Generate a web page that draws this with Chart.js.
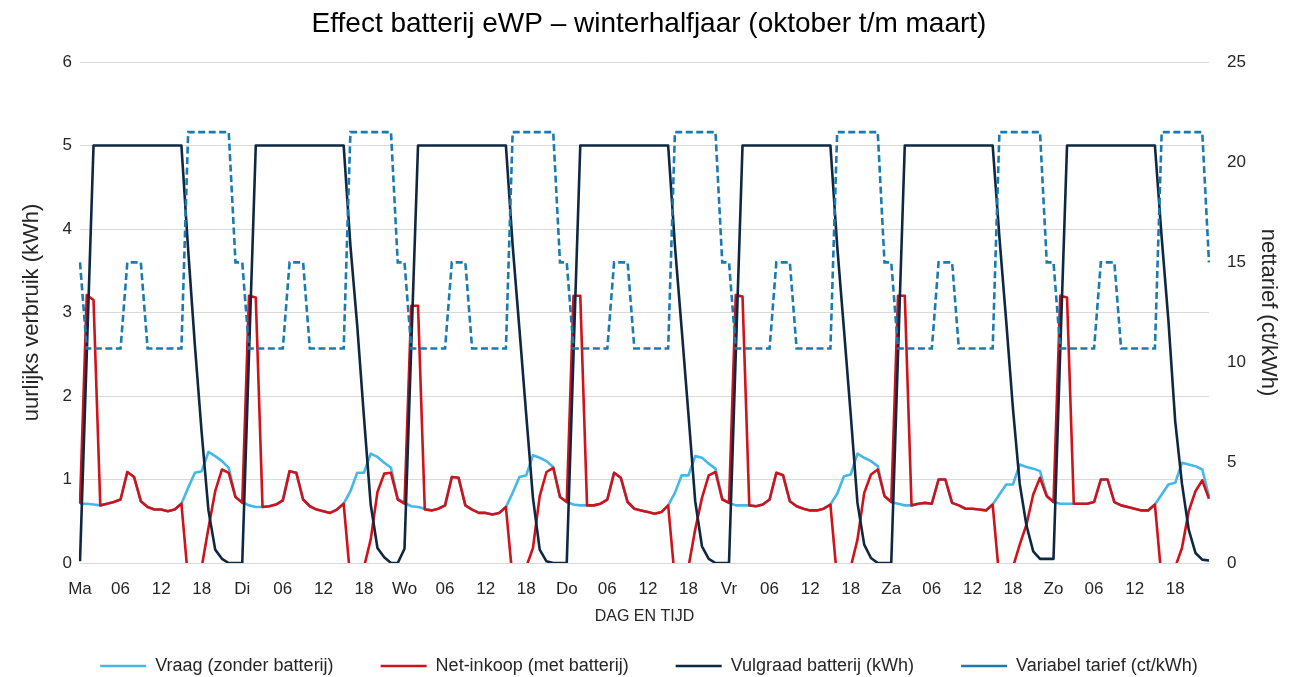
<!DOCTYPE html>
<html>
<head>
<meta charset="utf-8">
<script src="https://cdn.jsdelivr.net/npm/chart.js@4"></script>
<style>
  html, body { margin: 0; padding: 0; background: #fff; }
  #chart { display: block; }
</style>
</head>
<body>
<canvas id="chart" width="1298" height="677"></canvas>
<script>
const dayNames = ['Ma', 'Di', 'Wo', 'Do', 'Vr', 'Za', 'Zo'];
const hourTicks = { 6: '06', 12: '12', 18: '18' };

// uurwaarden, één regel per dag (ma t/m zo), kWh
const vraag = [
    0.71, 0.71, 0.70, 0.69, 0.71, 0.73, 0.76, 1.09, 1.03, 0.74, 0.67, 0.64, 0.64, 0.62, 0.64, 0.71, 0.90, 1.08, 1.10, 1.33, 1.28, 1.22, 1.14, 0.79,
    0.73, 0.69, 0.67, 0.67, 0.68, 0.70, 0.75, 1.10, 1.08, 0.76, 0.68, 0.64, 0.62, 0.60, 0.64, 0.71, 0.86, 1.08, 1.08, 1.31, 1.27, 1.20, 1.14, 0.77,
    0.72, 0.68, 0.67, 0.65, 0.63, 0.65, 0.69, 1.03, 1.02, 0.69, 0.64, 0.60, 0.60, 0.58, 0.60, 0.67, 0.84, 1.03, 1.05, 1.29, 1.26, 1.22, 1.15, 0.79,
    0.73, 0.70, 0.69, 0.69, 0.69, 0.71, 0.76, 1.08, 1.02, 0.73, 0.65, 0.63, 0.61, 0.59, 0.61, 0.69, 0.84, 1.05, 1.05, 1.28, 1.26, 1.19, 1.13, 0.77,
    0.72, 0.69, 0.69, 0.69, 0.68, 0.70, 0.76, 1.08, 1.05, 0.74, 0.68, 0.65, 0.63, 0.63, 0.65, 0.70, 0.83, 1.04, 1.06, 1.31, 1.26, 1.22, 1.16, 0.81,
    0.73, 0.71, 0.69, 0.69, 0.71, 0.72, 0.71, 1.00, 1.00, 0.72, 0.69, 0.65, 0.65, 0.64, 0.63, 0.70, 0.82, 0.94, 0.94, 1.18, 1.15, 1.13, 1.10, 0.81,
    0.73, 0.71, 0.71, 0.71, 0.71, 0.71, 0.73, 1.00, 1.00, 0.73, 0.69, 0.67, 0.65, 0.63, 0.63, 0.70, 0.82, 0.94, 0.96, 1.20, 1.18, 1.16, 1.12, 0.80
];

const netInkoop = [
    0.71, 3.21, 3.15, 0.69, 0.71, 0.73, 0.76, 1.09, 1.03, 0.74, 0.67, 0.64, 0.64, 0.62, 0.64, 0.71, -0.20, -0.30, -0.05, 0.42, 0.86, 1.12, 1.08, 0.79,
    0.72, 3.20, 3.18, 0.67, 0.68, 0.70, 0.75, 1.10, 1.08, 0.76, 0.68, 0.64, 0.62, 0.60, 0.64, 0.71, -0.20, -0.30, -0.05, 0.28, 0.85, 1.07, 1.08, 0.76,
    0.71, 3.08, 3.08, 0.64, 0.63, 0.65, 0.69, 1.03, 1.02, 0.69, 0.64, 0.60, 0.60, 0.58, 0.60, 0.67, -0.20, -0.30, -0.05, 0.18, 0.80, 1.09, 1.14, 0.79,
    0.73, 3.20, 3.20, 0.69, 0.69, 0.71, 0.76, 1.08, 1.02, 0.73, 0.65, 0.63, 0.61, 0.59, 0.61, 0.69, -0.20, -0.30, -0.05, 0.40, 0.78, 1.05, 1.09, 0.76,
    0.72, 3.21, 3.19, 0.69, 0.68, 0.70, 0.76, 1.08, 1.05, 0.74, 0.68, 0.65, 0.63, 0.63, 0.65, 0.70, -0.20, -0.30, -0.05, 0.28, 0.84, 1.06, 1.12, 0.80,
    0.73, 3.20, 3.20, 0.69, 0.71, 0.72, 0.71, 1.00, 1.00, 0.72, 0.69, 0.65, 0.65, 0.64, 0.63, 0.70, -0.20, -0.30, -0.05, 0.22, 0.46, 0.82, 1.02, 0.80,
    0.73, 3.20, 3.18, 0.71, 0.71, 0.71, 0.73, 1.00, 1.00, 0.73, 0.69, 0.67, 0.65, 0.63, 0.63, 0.70, -0.20, -0.30, -0.05, 0.18, 0.62, 0.86, 0.99, 0.77
];

const vulgraad = [
    0.02, 2.50, 5, 5, 5, 5, 5, 5, 5, 5, 5, 5, 5, 5, 5, 5, 3.75, 2.60, 1.56, 0.63, 0.16, 0.05, 0, 0,
    0, 2.50, 5, 5, 5, 5, 5, 5, 5, 5, 5, 5, 5, 5, 5, 5, 3.80, 2.85, 1.75, 0.70, 0.18, 0.07, 0, 0,
    0.17, 2.60, 5, 5, 5, 5, 5, 5, 5, 5, 5, 5, 5, 5, 5, 5, 3.80, 2.80, 1.78, 0.78, 0.16, 0.02, 0, 0,
    0, 2.50, 5, 5, 5, 5, 5, 5, 5, 5, 5, 5, 5, 5, 5, 5, 3.80, 2.80, 1.78, 0.74, 0.20, 0.05, 0, 0,
    0, 2.50, 5, 5, 5, 5, 5, 5, 5, 5, 5, 5, 5, 5, 5, 5, 3.80, 2.80, 1.78, 0.72, 0.22, 0.06, 0, 0,
    0, 2.50, 5, 5, 5, 5, 5, 5, 5, 5, 5, 5, 5, 5, 5, 5, 3.90, 2.90, 1.85, 0.95, 0.45, 0.14, 0.05, 0.05,
    0.05, 2.55, 5, 5, 5, 5, 5, 5, 5, 5, 5, 5, 5, 5, 5, 5, 3.90, 2.90, 1.70, 0.95, 0.40, 0.12, 0.04, 0.03
];

// ct/kWh
const tarief = [
    15, 10.7, 10.7, 10.7, 10.7, 10.7, 10.7, 15, 15, 15, 10.7, 10.7, 10.7, 10.7, 10.7, 10.7, 21.5, 21.5, 21.5, 21.5, 21.5, 21.5, 21.5, 15,
    15, 10.7, 10.7, 10.7, 10.7, 10.7, 10.7, 15, 15, 15, 10.7, 10.7, 10.7, 10.7, 10.7, 10.7, 21.5, 21.5, 21.5, 21.5, 21.5, 21.5, 21.5, 15,
    15, 10.7, 10.7, 10.7, 10.7, 10.7, 10.7, 15, 15, 15, 10.7, 10.7, 10.7, 10.7, 10.7, 10.7, 21.5, 21.5, 21.5, 21.5, 21.5, 21.5, 21.5, 15,
    15, 10.7, 10.7, 10.7, 10.7, 10.7, 10.7, 15, 15, 15, 10.7, 10.7, 10.7, 10.7, 10.7, 10.7, 21.5, 21.5, 21.5, 21.5, 21.5, 21.5, 21.5, 15,
    15, 10.7, 10.7, 10.7, 10.7, 10.7, 10.7, 15, 15, 15, 10.7, 10.7, 10.7, 10.7, 10.7, 10.7, 21.5, 21.5, 21.5, 21.5, 21.5, 21.5, 21.5, 15,
    15, 10.7, 10.7, 10.7, 10.7, 10.7, 10.7, 15, 15, 15, 10.7, 10.7, 10.7, 10.7, 10.7, 10.7, 21.5, 21.5, 21.5, 21.5, 21.5, 21.5, 21.5, 15,
    15, 10.7, 10.7, 10.7, 10.7, 10.7, 10.7, 15, 15, 15, 10.7, 10.7, 10.7, 10.7, 10.7, 10.7, 21.5, 21.5, 21.5, 21.5, 21.5, 21.5, 21.5, 15
];

const labels = [];
dayNames.forEach(day => {
    for (let h = 0; h < 24; h++) {
        labels.push(h === 0 ? day : (hourTicks[h] || ''));
    }
});

Chart.defaults.font.family = '"Liberation Sans", Arial, sans-serif';
Chart.defaults.color = '#262626';

const tickFont = { size: 17 };

const lineStyle = (color) => ({
    borderColor: color,
    backgroundColor: color,
    borderWidth: 2.6,
    pointRadius: 0,
    tension: 0,
    fill: false,
    borderJoinStyle: 'round'
});

new Chart(document.getElementById('chart'), {
    type: 'line',
    data: {
        labels: labels,
        datasets: [
            { label: 'Vraag (zonder batterij)', data: vraag, yAxisID: 'y', order: 4, ...lineStyle('#45B7E9') },
            { label: 'Net-inkoop (met batterij)', data: netInkoop, yAxisID: 'y', order: 3, ...lineStyle('#D0121B') },
            { label: 'Vulgraad batterij (kWh)', data: vulgraad, yAxisID: 'y', order: 2, ...lineStyle('#0E2841') },
            { label: 'Variabel tarief (ct/kWh)', data: tarief, yAxisID: 'y2', order: 1, ...lineStyle('#1A7BB0'), borderDash: [7, 3.5], borderJoinStyle: 'miter' }
        ]
    },
    options: {
        responsive: false,
        animation: false,
        layout: { padding: { left: 0, right: 0, top: 0, bottom: -8 } },
        plugins: {
            tooltip: { enabled: false },
            title: {
                display: true,
                text: 'Effect batterij eWP \u2013 winterhalfjaar (oktober t/m maart)',
                color: '#000',
                font: { size: 28, weight: 'normal' },
                padding: { top: 7.2, bottom: 21.2 }
            },
            legend: {
                position: 'bottom',
                labels: {
                    usePointStyle: true,
                    pointStyle: 'line',
                    pointStyleWidth: 46,
                    padding: 47,
                    font: { size: 18 },
                    color: '#262626',
                    sort: (a, b) => a.datasetIndex - b.datasetIndex
                }
            }
        },
        scales: {
            x: {
                offset: false,
                grid: { display: false },
                border: { display: false },
                ticks: { autoSkip: false, maxRotation: 0, minRotation: 0, padding: 8, font: tickFont },
                title: { display: true, text: 'DAG EN TIJD', font: { size: 16 }, padding: { top: 0, bottom: -16.6 } },
                afterFit: (s) => { s.height = 47; }
            },
            y: {
                position: 'left',
                min: 0,
                max: 6,
                ticks: { stepSize: 1, padding: 8, font: tickFont },
                grid: { color: '#D9D9D9', lineWidth: 1, drawTicks: false },
                border: { display: false },
                title: { display: true, text: 'uurlijks verbruik (kWh)', font: { size: 22 }, padding: { top: 18.8, bottom: 0 } },
                afterFit: (s) => { s.width = 80; }
            },
            y2: {
                position: 'right',
                min: 0,
                max: 25,
                ticks: { stepSize: 5, padding: 18, font: tickFont },
                grid: { display: false, drawTicks: false },
                border: { display: false },
                title: { display: true, text: 'nettarief (ct/kWh)', font: { size: 22 }, padding: { top: 16.8, bottom: 0 } },
                afterFit: (s) => { s.width = 89; }
            }
        }
    }
});
</script>
</body>
</html>
